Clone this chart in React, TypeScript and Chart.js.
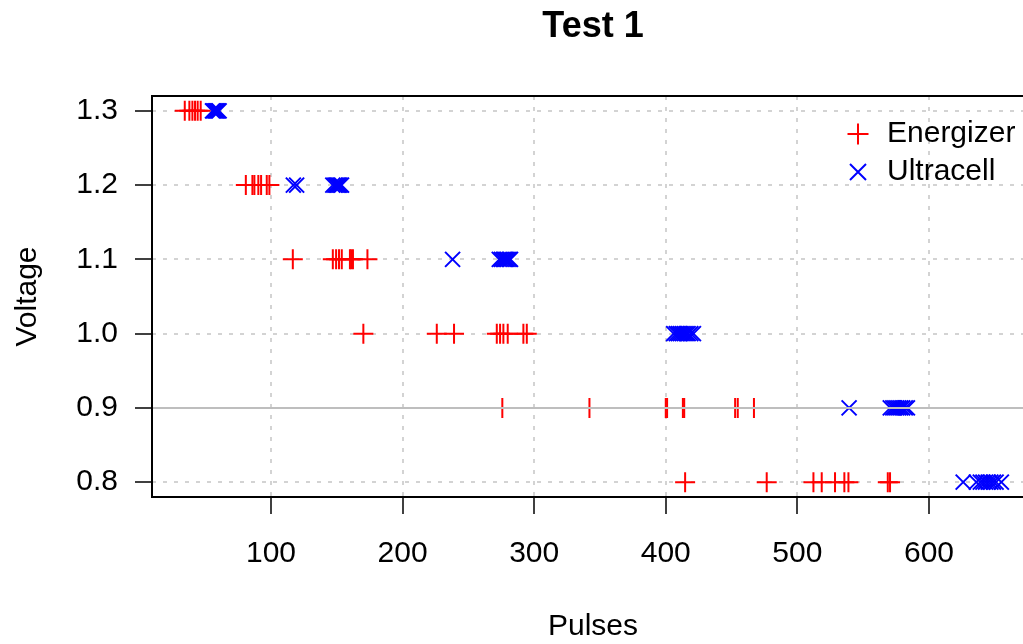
import React, { useEffect, useRef } from "react";
import { Chart, registerables } from "chart.js";

Chart.register(...registerables);

// ---- data ----
const voltageLevels = [1.3, 1.2, 1.1, 1.0, 0.9, 0.8];

const energizerAt13 = [34.5, 38, 40.3, 42.3, 44.3, 46.6];
const energizerAt12 = [80.9, 85.9, 87.4, 90.4, 92.5, 96.8, 98.8];
const energizerAt11 = [116.6, 147, 149.5, 151.7, 153.8, 160, 161, 162.3, 173.3];
const energizerAt10 = [170.2, 226, 239.1, 271.6, 274.1, 276.6, 279.9, 291.8, 294.4];
const energizerAt09 = [275.8, 342, 400, 401, 413, 414, 452.7, 454.7, 467];
const energizerAt08 = [414.7, 476.7, 512.2, 518.5, 528.6, 535.7, 538.8, 568.7, 570.4];

const ultracellAt13 = [55.6, 56.5, 57.5, 58.3, 59, 59.8, 60.6];
const ultracellAt12 = [117, 119.5, 147, 148.5, 149.5, 150.5, 151.5, 152.5, 153.6];
const ultracellAt11 = [238, 273.5, 275, 276.5, 277.5, 278.5, 279.5, 281, 282];
const ultracellAt10 = [406, 408, 409.5, 411, 412.5, 414, 415.5, 417, 419, 421];
const ultracellAt09 = [539.3, 570.6, 572.5, 574, 575.5, 577, 578.5, 580, 582, 583.6];
const ultracellAt08 = [626, 636, 639, 641, 643, 645, 647, 649, 651, 655];

const xTickValues = [100, 200, 300, 400, 500, 600];
const yTickValues = [0.8, 0.9, 1.0, 1.1, 1.2, 1.3];
const referenceVoltage = 0.9;

const chartTitle = "Test 1";
const xTitle = "Pulses";
const yTitle = "Voltage";
const seriesNames = ["Energizer", "Ultracell"];

// ---- layout / style ----
const FONT = "'Liberation Sans', Arial, Helvetica, sans-serif";
const X_MIN = 9.6;
const X_MAX = 679.8;
const Y_MIN = 0.78;
const Y_MAX = 1.32;
const CANVAS_W = 1050;
const CANVAS_H = 644;
const TEXT_SIZE = 30;

function toPoints(values: number[], v: number) {
  return values.map((x) => ({ x, y: v }));
}

const framePlugin = {
  id: "frameTitleLegend",
  afterDraw(chart: any) {
    const { ctx, chartArea } = chart;
    const { left, right, top, bottom } = chartArea;
    ctx.save();
    // box
    ctx.strokeStyle = "#000";
    ctx.lineWidth = 2;
    ctx.strokeRect(left, top, right - left, bottom - top);
    // title
    ctx.fillStyle = "#000";
    ctx.font = `bold 36px ${FONT}`;
    ctx.textAlign = "center";
    ctx.textBaseline = "alphabetic";
    ctx.fillText(chartTitle, (left + right) / 2, 37);
    // legend
    const lx = 858;
    const ly = [134, 172];
    ctx.lineWidth = 2;
    ctx.strokeStyle = "#FF0000";
    ctx.beginPath();
    ctx.moveTo(lx - 10.5, ly[0]);
    ctx.lineTo(lx + 10.5, ly[0]);
    ctx.moveTo(lx, ly[0] - 10.5);
    ctx.lineTo(lx, ly[0] + 10.5);
    ctx.stroke();
    ctx.strokeStyle = "#0000FF";
    const d = 8;
    ctx.beginPath();
    ctx.moveTo(lx - d, ly[1] - d);
    ctx.lineTo(lx + d, ly[1] + d);
    ctx.moveTo(lx - d, ly[1] + d);
    ctx.lineTo(lx + d, ly[1] - d);
    ctx.stroke();
    ctx.fillStyle = "#000";
    ctx.font = `${TEXT_SIZE}px ${FONT}`;
    ctx.textAlign = "left";
    ctx.textBaseline = "middle";
    ctx.fillText(seriesNames[0], 887, ly[0]);
    ctx.fillText(seriesNames[1], 887, ly[1]);
    ctx.restore();
  },
};

export default function App() {
  const ref = useRef<HTMLCanvasElement>(null);

  useEffect(() => {
    const canvas = ref.current;
    if (!canvas) return;
    const energizerLists = [energizerAt13, energizerAt12, energizerAt11, energizerAt10, energizerAt09, energizerAt08];
    const ultracellLists = [ultracellAt13, ultracellAt12, ultracellAt11, ultracellAt10, ultracellAt09, ultracellAt08];
    const energizerData = energizerLists.flatMap((vals, i) => toPoints(vals, voltageLevels[i]));
    const ultracellData = ultracellLists.flatMap((vals, i) => toPoints(vals, voltageLevels[i]));

    const tickFont = { size: TEXT_SIZE, family: FONT, lineHeight: 1.2 };

    const chart = new Chart(canvas, {
      type: "scatter",
      data: {
        datasets: [
          {
            label: seriesNames[0],
            data: energizerData,
            pointStyle: "cross",
            pointRadius: 10,
            pointBorderColor: "#FF0000",
            pointBackgroundColor: "#FF0000",
            pointBorderWidth: 2,
            showLine: false,
            order: 2,
          } as any,
          {
            label: seriesNames[1],
            data: ultracellData,
            pointStyle: "crossRot",
            pointRadius: 10.6,
            pointBorderColor: "#0000FF",
            pointBackgroundColor: "#0000FF",
            pointBorderWidth: 2,
            showLine: false,
            order: 1,
          } as any,
          {
            type: "line",
            label: "reference",
            data: [
              { x: X_MIN, y: referenceVoltage },
              { x: X_MAX, y: referenceVoltage },
            ],
            borderColor: "#BEBEBE",
            borderWidth: 2,
            pointRadius: 0,
            showLine: true,
            order: 0,
          } as any,
        ],
      },
      options: {
        responsive: false,
        animation: false,
        devicePixelRatio: 1,
        layout: { padding: { left: 0, top: 96, right: CANVAS_W - 1034, bottom: 0 } },
        plugins: {
          legend: { display: false },
          title: { display: false },
          tooltip: { enabled: false },
        },
        scales: {
          x: {
            type: "linear",
            position: "bottom",
            min: X_MIN,
            max: X_MAX,
            z: 1,
            afterBuildTicks: (s: any) => {
              s.ticks = xTickValues.map((v) => ({ value: v }));
            },
            afterFit: (s: any) => {
              s.height = 147;
            },
            grid: {
              color: "#D3D3D3",
              lineWidth: 2,
              drawTicks: true,
              tickLength: 17,
              tickColor: "#000",
              tickWidth: 1.5,
              tickBorderDash: [],
            },
            border: { display: false, dash: [4, 7] },
            ticks: {
              color: "#000",
              font: tickFont,
              padding: 22,
              maxRotation: 0,
              autoSkip: false,
              callback: (v: any) => String(v),
            },
            title: {
              display: true,
              text: xTitle,
              color: "#000",
              font: tickFont,
              padding: { top: 0, bottom: -1 },
            },
          },
          y: {
            type: "linear",
            position: "left",
            min: Y_MIN,
            max: Y_MAX,
            z: 1,
            afterBuildTicks: (s: any) => {
              s.ticks = yTickValues.map((v) => ({ value: v }));
            },
            afterFit: (s: any) => {
              s.width = 152;
            },
            grid: {
              color: "#D3D3D3",
              lineWidth: 2,
              drawTicks: true,
              tickLength: 17,
              tickColor: "#000",
              tickWidth: 1.5,
              tickBorderDash: [],
            },
            border: { display: false, dash: [4, 7] },
            ticks: {
              color: "#000",
              font: tickFont,
              padding: 17,
              autoSkip: false,
              callback: (v: any) => Number(v).toFixed(1),
            },
            title: {
              display: true,
              text: yTitle,
              color: "#000",
              font: tickFont,
              padding: { top: 10, bottom: 0 },
            },
          },
        },
      } as any,
      plugins: [framePlugin],
    });
    return () => chart.destroy();
  }, []);

  return (
    <div
      style={{
        position: "fixed",
        left: 0,
        top: 0,
        width: 1023,
        height: 644,
        overflow: "hidden",
        background: "#fff",
      }}
    >
      <canvas
        ref={ref}
        width={CANVAS_W}
        height={CANVAS_H}
        style={{ display: "block", width: CANVAS_W, height: CANVAS_H }}
      />
    </div>
  );
}
